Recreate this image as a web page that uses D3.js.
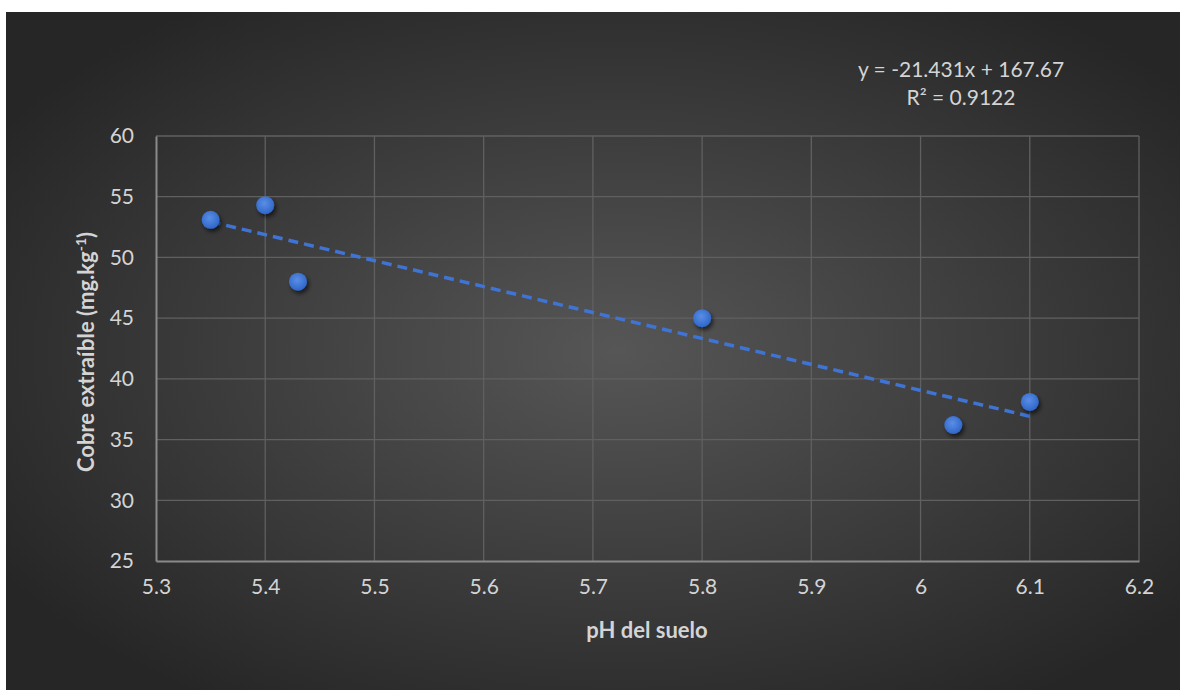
<!DOCTYPE html>
<html>
<head>
<meta charset="utf-8">
<script src="https://cdn.jsdelivr.net/npm/d3@7"></script>
<style>
  html, body { margin: 0; padding: 0; background: #fff; }
  svg { display: block; }
</style>
</head>
<body>
<svg id="chart" width="1180" height="690"></svg>
<script>
// data
const phValues = [5.35, 5.4, 5.43, 5.8, 6.03, 6.1];
const copperValues = [53.1, 54.3, 48.0, 45.0, 36.2, 38.1];
const xTicks = [5.3, 5.4, 5.5, 5.6, 5.7, 5.8, 5.9, 6, 6.1, 6.2];
const yTicks = [25, 30, 35, 40, 45, 50, 55, 60];
const equationLines = ["y = -21.431x + 167.67", "R² = 0.9122"];

const svg = d3.select("#chart");
const defs = svg.append("defs");

// dark radial background
const bg = defs.append("radialGradient").attr("id", "bg")
  .attr("cx", "52%").attr("cy", "50%").attr("r", "62%");
bg.append("stop").attr("offset", "0%").attr("stop-color", "#565656");
bg.append("stop").attr("offset", "100%").attr("stop-color", "#262626");

const dot = defs.append("radialGradient").attr("id", "dot")
  .attr("cx", "45%").attr("cy", "40%").attr("r", "60%");
dot.append("stop").attr("offset", "0%").attr("stop-color", "#5a8ee6");
dot.append("stop").attr("offset", "100%").attr("stop-color", "#2f66c8");

const shadow = defs.append("filter").attr("id", "shadow")
  .attr("x", "-50%").attr("y", "-50%").attr("width", "200%").attr("height", "200%");
shadow.append("feDropShadow").attr("dx", 2).attr("dy", 3).attr("stdDeviation", 2)
  .attr("flood-color", "#000").attr("flood-opacity", 0.6);

svg.append("rect").attr("x", 6).attr("y", 12).attr("width", 1174).attr("height", 678)
  .attr("fill", "url(#bg)");

const x = d3.scaleLinear().domain([5.3, 6.2]).range([156, 1139]);
const y = d3.scaleLinear().domain([25, 60]).range([561, 136]);

const font = "Lato, 'Open Sans', sans-serif";
const textCol = "#d4d4d4";

// gridlines
svg.append("g").selectAll("line").data(yTicks.slice(1)).join("line")
  .attr("x1", x(5.3)).attr("x2", x(6.2))
  .attr("y1", d => y(d)).attr("y2", d => y(d))
  .attr("stroke", "#606060").attr("stroke-width", 1.3);
svg.append("g").selectAll("line").data(xTicks.slice(1)).join("line")
  .attr("x1", d => x(d)).attr("x2", d => x(d))
  .attr("y1", y(25)).attr("y2", y(60))
  .attr("stroke", "#606060").attr("stroke-width", 1.3);

// axes
const xAxis = svg.append("g").attr("transform", `translate(0,${y(25)})`)
  .call(d3.axisBottom(x).tickValues(xTicks).tickSize(0).tickPadding(18).tickFormat(d3.format("")));
const yAxis = svg.append("g").attr("transform", `translate(${x(5.3)},0)`)
  .call(d3.axisLeft(y).tickValues(yTicks).tickSize(0).tickPadding(22));
[xAxis, yAxis].forEach(g => {
  g.select(".domain").attr("stroke", "#8a8a8a").attr("stroke-width", 2);
  g.selectAll("text").attr("fill", textCol).attr("font-family", font).attr("font-size", 21);
});

// trend line (least squares)
const mx = d3.mean(phValues), my = d3.mean(copperValues);
const slope = d3.sum(phValues, (v, i) => (v - mx) * (copperValues[i] - my)) /
  d3.sum(phValues, v => (v - mx) * (v - mx));
const intercept = my - slope * mx;
const xr = d3.extent(phValues);
svg.append("line")
  .attr("x1", x(xr[0])).attr("y1", y(slope * xr[0] + intercept))
  .attr("x2", x(xr[1])).attr("y2", y(slope * xr[1] + intercept))
  .attr("stroke", "#3f74d4").attr("stroke-width", 3.5)
  .attr("stroke-dasharray", "10,6");

// points
svg.append("g").selectAll("circle").data(phValues).join("circle")
  .attr("cx", d => x(d)).attr("cy", (d, i) => y(copperValues[i]))
  .attr("r", 9).attr("fill", "url(#dot)").attr("filter", "url(#shadow)");

// equation
svg.append("g").selectAll("text").data(equationLines).join("text")
  .attr("x", 961).attr("y", (d, i) => 77 + i * 28)
  .attr("text-anchor", "middle").attr("fill", textCol)
  .attr("font-family", font).attr("font-size", 21).text(d => d);

// axis titles
svg.append("text").attr("x", 647).attr("y", 638).attr("text-anchor", "middle")
  .attr("fill", textCol).attr("font-family", font).attr("font-size", 22)
  .attr("font-weight", "bold").text("pH del suelo");

const yt = svg.append("text").attr("transform", "translate(94,352) rotate(-90)")
  .attr("text-anchor", "middle").attr("fill", textCol).attr("font-family", font)
  .attr("font-size", 22).attr("font-weight", "bold");
yt.append("tspan").text("Cobre extraíble (mg.kg");
yt.append("tspan").attr("dy", -8).attr("font-size", 14).text("-1");
yt.append("tspan").attr("dy", 8).text(")");
</script>
</body>
</html>
